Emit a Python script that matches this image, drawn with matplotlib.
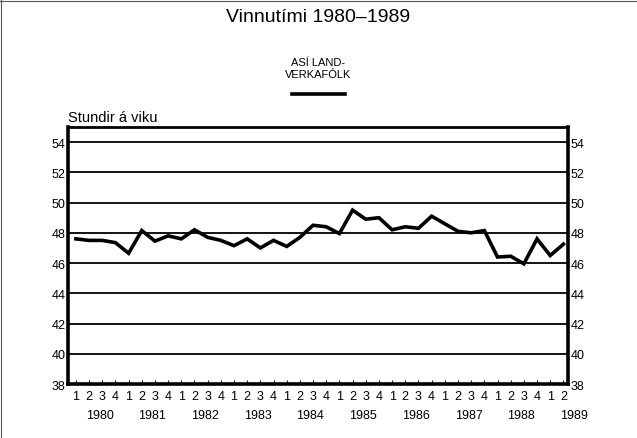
import matplotlib
matplotlib.use("Agg")
import matplotlib.pyplot as plt
from matplotlib.lines import Line2D
import numpy as np

plt.rcParams["font.family"] = ["Liberation Sans", "DejaVu Sans"]

# vinnutími ASÍ landverkafólks, ársfjórðungar 1980 Q1 - 1989 Q2
hours = [
    47.6, 47.5, 47.5, 47.35,   # 1980
    46.65, 48.15, 47.45, 47.8,  # 1981
    47.6, 48.2, 47.7, 47.5,    # 1982
    47.15, 47.6, 47.0, 47.5,   # 1983
    47.1, 47.7, 48.5, 48.4,    # 1984
    47.95, 49.5, 48.9, 49.0,   # 1985
    48.2, 48.4, 48.3, 49.1,    # 1986
    48.6, 48.1, 48.0, 48.15,   # 1987
    46.4, 46.45, 45.95, 47.6,  # 1988
    46.5, 47.25,               # 1989
]
quarter_labels = ["1", "2", "3", "4"] * 9 + ["1", "2"]
years = [str(y) for y in range(1980, 1990)]
y_ticks = [38, 40, 42, 44, 46, 48, 50, 52, 54]

fig = plt.figure(figsize=(6.37, 4.39), dpi=100)
ax = fig.add_axes([68 / 637, 1 - 385 / 439, (568 - 68) / 637, (385 - 128) / 439])

x = np.arange(len(hours))
ax.plot(x, hours, color="black", lw=2.6, solid_joinstyle="miter", zorder=3)

for v in y_ticks[1:]:
    ax.axhline(v, color="black", lw=1.3, zorder=2)

ax.set_xlim(-0.6, len(hours) - 1 + 0.35)
ax.set_ylim(38, 55)
ax.set_yticks(y_ticks)
ax.tick_params(axis="y", which="both", length=0, labelsize=9, pad=2,
               labelleft=True, labelright=True)
ax.set_xticks(x)
ax.set_xticklabels(quarter_labels)
ax.tick_params(axis="x", direction="in", length=3, width=0.8, labelsize=9, pad=4)
for s in ax.spines.values():
    s.set_linewidth(2.6)
ax.spines["top"].set_linewidth(2.0)

# ártöl undir ársfjórðungum
for k, yr in enumerate(years):
    ax.text(1.8 + 4 * k, -0.122, yr, transform=ax.get_xaxis_transform(),
            ha="center", va="center", fontsize=9)

ax.text(0, 1.012, "Stundir á viku", transform=ax.transAxes,
        ha="left", va="bottom", fontsize=10.5)

fig.text(318 / 637, 1 - 18 / 439, "Vinnutími 1980\u20131989",
         ha="center", va="center", fontsize=14)
fig.text(318 / 637, 1 - 69 / 439, "ASÍ LAND-\nVERKAFÓLK",
         ha="center", va="center", fontsize=8, linespacing=1.35)
fig.add_artist(Line2D([292 / 637, 345 / 637], [1 - 95 / 439, 1 - 95 / 439],
                      color="black", lw=2.6, transform=fig.transFigure))

# rammi um myndina
fig.add_artist(Line2D([1.5 / 637, 1.5 / 637], [0, 1], color="#555555", lw=0.8,
                      transform=fig.transFigure))
fig.add_artist(Line2D([0, 1], [1 - 2 / 439, 1 - 2 / 439], color="#555555", lw=0.8,
                      transform=fig.transFigure))

fig.savefig("out.png", dpi=100)
